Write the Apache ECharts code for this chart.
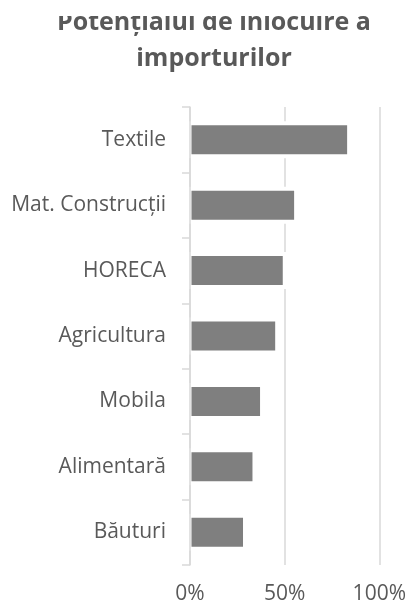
<!DOCTYPE html>
<html>
<head>
<meta charset="utf-8">
<script src="https://cdn.jsdelivr.net/npm/echarts@6/dist/echarts.min.js"></script>
<style>
  html, body { margin: 0; padding: 0; background: #fff; }
  #chart { width: 409px; height: 605px; }
</style>
</head>
<body>
<div id="chart"></div>
<script>
// chart data
const categories = ['Textile', 'Mat. Construcții', 'HORECA', 'Agricultura', 'Mobila', 'Alimentară', 'Băuturi'];
const shares = [0.83, 0.55, 0.49, 0.45, 0.37, 0.33, 0.28];
const xTicks = [0, 0.5, 1];

const titleLines = ['Potențialul de înlocuire a', 'importurilor'];
const textColor = '#595959';
const gridColor = '#d9d9d9';

const chart = echarts.init(document.getElementById('chart'));

// bars with a white halo around them (it breaks the gridlines, as in the original)
function renderBar(params, api) {
    const start = api.coord([0, api.value(1)]);
    const end = api.coord([api.value(0), api.value(1)]);
    const h = 29;
    return {
        type: 'rect',
        shape: { x: start[0] + 1.5, y: start[1] - h / 2, width: end[0] - start[0] - 1.5, height: h },
        style: { fill: '#7f7f7f', stroke: '#ffffff', lineWidth: 8, strokeFirst: true }
    };
}

chart.setOption({
    animation: false,
    textStyle: { fontFamily: 'Open Sans' },
    grid: { left: 190, right: 28.5, top: 107, bottom: 39 },
    graphic: [
        {
            type: 'text', x: 214, y: 23, z: 10,
            style: { text: titleLines[0], fill: textColor, font: 'bold 25px "Open Sans"', align: 'center', verticalAlign: 'middle' }
        },
        {
            type: 'text', x: 214, y: 58.5, z: 10,
            style: { text: titleLines[1], fill: textColor, font: 'bold 25px "Open Sans"', align: 'center', verticalAlign: 'middle' }
        },
        // top of the title is cut off in the original
        { type: 'rect', z: 20, shape: { x: 0, y: 0, width: 409, height: 16 }, style: { fill: '#fff' } }
    ],
    xAxis: {
        type: 'value',
        min: xTicks[0],
        max: xTicks[xTicks.length - 1],
        interval: xTicks[1] - xTicks[0],
        axisLine: { show: false },
        axisTick: { show: false },
        splitLine: { lineStyle: { color: gridColor, width: 1.5 } },
        axisLabel: {
            color: textColor,
            fontSize: 21,
            margin: 19,
            formatter: v => Math.round(v * 100) + '%'
        }
    },
    yAxis: {
        type: 'category',
        inverse: true,
        data: categories,
        z: 5,
        axisLine: { lineStyle: { color: gridColor, width: 1.5 } },
        axisTick: { show: true, length: 8, lineStyle: { color: gridColor, width: 1.5 } },
        axisLabel: { color: textColor, fontSize: 21, margin: 24 }
    },
    series: [{
        type: 'custom',
        renderItem: renderBar,
        encode: { x: 0, y: 1 },
        data: shares.map((v, i) => [v, i])
    }]
});
</script>
</body>
</html>
